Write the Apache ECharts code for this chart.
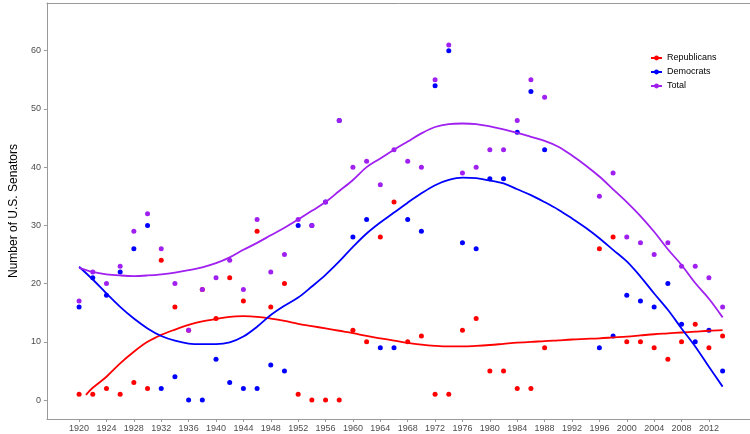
<!DOCTYPE html>
<html>
<head>
<meta charset="utf-8">
<script src="https://cdn.jsdelivr.net/npm/echarts@6/dist/echarts.min.js"></script>
<style>html,body{margin:0;padding:0;background:#fff}#c{width:750px;height:434px}</style>
</head>
<body>
<div id="c"></div>
<script>
// Election years for the scatter points
var pointYears = [1920,1922,1924,1926,1928,1930,1932,1934,1936,1938,1940,1942,1944,1946,1948,1950,1952,1954,1956,1958,1960,1962,1964,1966,1968,1970,1972,1974,1976,1978,1980,1982,1984,1986,1988,1996,1998,2000,2002,2004,2006,2008,2010,2012,2014];
var repPoints = [1,1,2,1,3,2,24,16,12,19,14,21,17,29,16,20,1,0,0,0,12,10,28,34,10,11,1,1,12,14,5,5,2,2,9,26,28,10,10,9,7,10,13,9,11];
var demPoints = [16,21,18,22,26,30,2,4,0,0,7,3,2,2,6,5,30,30,34,48,28,31,9,9,31,29,54,60,27,26,38,38,46,53,43,9,11,18,17,16,20,13,10,12,5];
var totPoints = [17,22,20,23,29,32,26,20,12,19,21,24,19,31,22,25,31,30,34,48,40,41,37,43,41,40,55,61,39,40,43,43,48,55,52,35,39,28,27,25,27,23,23,21,16];

// Smoothed trend curves
var curveYears = [1920,1922,1924,1926,1928,1930,1932,1934,1936,1938,1940,1942,1944,1946,1948,1950,1952,1954,1956,1958,1960,1962,1964,1966,1968,1970,1972,1974,1976,1978,1980,1982,1984,1986,1988,1990,1992,1994,1996,1998,2000,2002,2004,2006,2008,2010,2012,2014];
var repCurveYears = [1921,1922,1924,1926,1928,1930,1932,1934,1936,1938,1940,1942,1944,1946,1948,1950,1952,1954,1956,1958,1960,1962,1964,1966,1968,1970,1972,1974,1976,1978,1980,1982,1984,1986,1988,1990,1992,1994,1996,1998,2000,2002,2004,2006,2008,2010,2012,2014];
var repCurve = [0.9,2.1,4.0,6.3,8.3,10.0,11.2,12.1,12.9,13.5,13.9,14.3,14.4,14.3,14.0,13.6,13.1,12.7,12.3,11.9,11.5,11.0,10.6,10.2,9.8,9.5,9.3,9.2,9.2,9.3,9.45,9.65,9.85,10.0,10.1,10.25,10.4,10.5,10.6,10.75,10.9,11.1,11.3,11.45,11.6,11.75,11.9,12.0];
var demCurve = [22.9,20.7,18.3,16.0,14.0,12.3,11.0,10.2,9.7,9.6,9.6,9.9,10.9,12.6,14.6,16.2,17.6,19.5,21.5,23.8,26.3,28.6,30.5,32.2,33.9,35.5,36.9,37.8,38.2,38.1,37.7,37.2,36.2,35.2,34.0,32.7,31.2,29.6,27.8,25.8,23.8,21.2,18.3,15.5,12.3,9.2,5.7,2.3];
var totCurve = [22.7,22.0,21.6,21.4,21.3,21.4,21.6,21.9,22.3,22.8,23.5,24.5,25.8,27.0,28.3,29.6,31.0,32.5,34.0,35.9,37.8,40.0,41.5,43.0,44.4,45.8,46.9,47.4,47.5,47.4,47.0,46.5,45.9,45.2,44.5,43.5,42.0,40.3,38.4,36.2,34.0,31.6,28.9,25.9,23.2,20.1,17.4,14.2];

// Axis ticks
var xTicks = [1920,1924,1928,1932,1936,1940,1944,1948,1952,1956,1960,1964,1968,1972,1976,1980,1984,1988,1992,1996,2000,2004,2008,2012];
var yTicks = [0,10,20,30,40,50,60];
var seriesNames = ['Republicans','Democrats','Total'];
var yTitle = 'Number of U.S. Senators';

function pairs(xs, ys){ return xs.map(function(x,i){ return [x, ys[i]]; }); }

var RED = '#ff0000', BLUE = '#0000ff', PURPLE = '#a020f0';
var tickColor = '#4d4d4d', lineGray = '#999999';
var FONT = 'Liberation Sans, Arial, sans-serif';
var XMIN = 1915.3, XMAX = 2018.0;

var chart = echarts.init(document.getElementById('c'), null, {renderer:'canvas'});
function scatter(name, data, color){
  return {type:'scatter', name: name + ' pts', data: data, symbolSize: 5,
    itemStyle:{color: color, opacity:1}, emphasis:{disabled:true}, silent:true, z:2};
}
function curve(name, data, color){
  return {type:'line', name: name, data: data, smooth: 0.35, showSymbol:false, symbol:'circle', symbolSize:5,
    lineStyle:{color: color, width: 1.8}, itemStyle:{color: color}, emphasis:{disabled:true}, silent:true, z:3};
}
chart.setOption({
  animation:false,
  backgroundColor:'#ffffff',
  grid:{left:37, top:3, right:0, bottom:15, show:false},
  legend:{
    data: seriesNames, orient:'vertical', left:650, top:52,
    itemWidth:11, itemHeight:6, itemGap:2,
    textStyle:{fontFamily:FONT, fontSize:9, color:'#000', lineHeight:12},
    selectedMode:false, padding:0
  },
  xAxis:[{
    type:'value', min:XMIN, max:XMAX,
    splitLine:{show:false},
    axisLine:{show:true, onZero:false, lineStyle:{color:lineGray}},
    axisTick:{show:true, length:3, lineStyle:{color:lineGray}, customValues: xTicks},
    axisLabel:{color:tickColor, fontSize:9, fontFamily:FONT, margin:5, customValues: xTicks, formatter: function(v){ return String(v); }}
  },{
    type:'value', position:'top', min:XMIN, max:XMAX,
    splitLine:{show:false},
    axisLine:{show:true, onZero:false, lineStyle:{color:lineGray}},
    axisTick:{show:false}, axisLabel:{show:false}
  }],
  yAxis:{
    type:'value', min:-3.26, max:68.2,
    name: yTitle, nameLocation:'middle', nameRotate:90, nameGap:25,
    nameTextStyle:{color:'#000', fontSize:12, fontFamily:FONT},
    splitLine:{show:false},
    axisLine:{show:true, onZero:false, lineStyle:{color:lineGray}},
    axisTick:{show:true, length:3, lineStyle:{color:lineGray}, customValues: yTicks},
    axisLabel:{color:tickColor, fontSize:9, fontFamily:FONT, margin:6, customValues: yTicks}
  },
  series:[
    scatter(seriesNames[0], pairs(pointYears, repPoints), RED),
    scatter(seriesNames[1], pairs(pointYears, demPoints), BLUE),
    scatter(seriesNames[2], pairs(pointYears, totPoints), PURPLE),
    curve(seriesNames[0], pairs(repCurveYears, repCurve), RED),
    curve(seriesNames[1], pairs(curveYears, demCurve), BLUE),
    curve(seriesNames[2], pairs(curveYears, totCurve), PURPLE)
  ]
});
</script>
</body>
</html>
